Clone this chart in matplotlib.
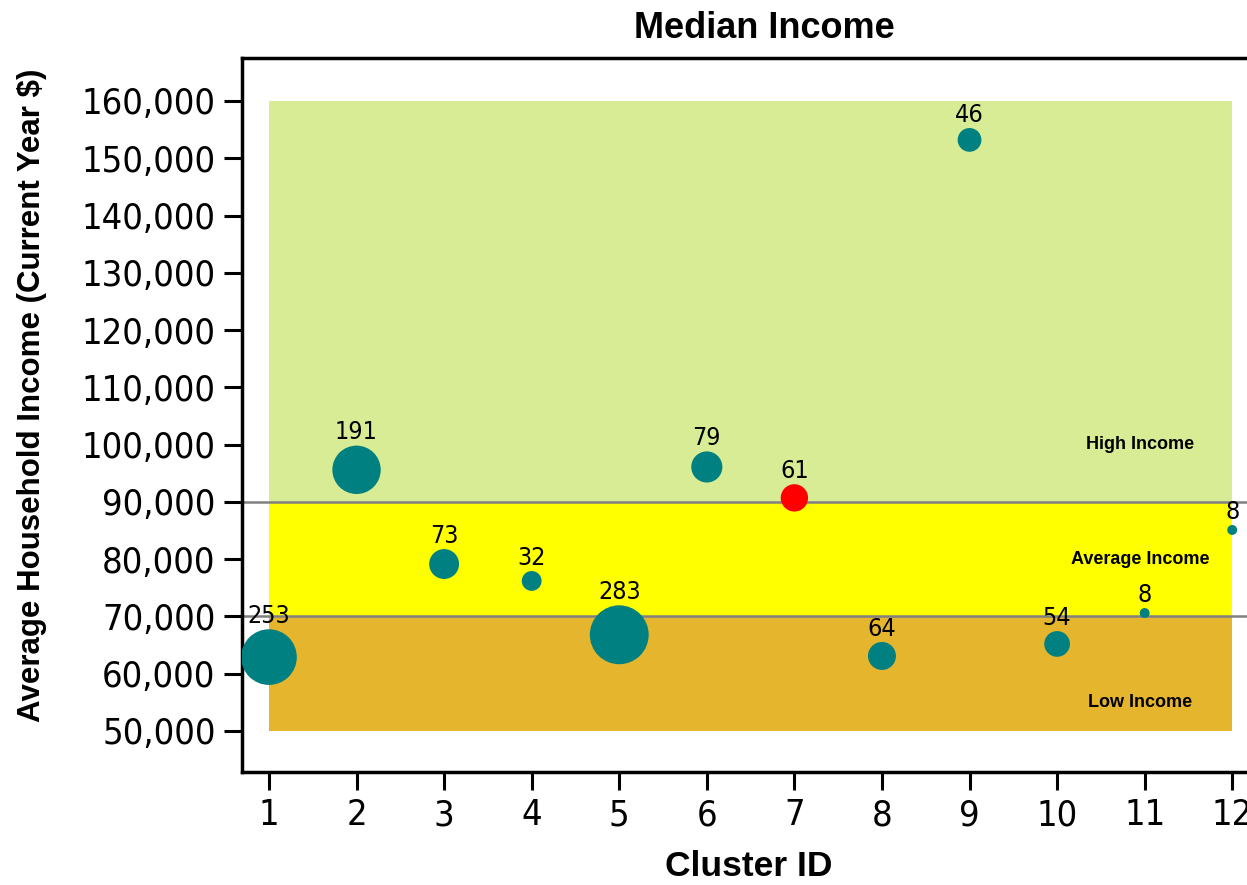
import matplotlib
matplotlib.use('Agg')
import matplotlib.pyplot as plt
from matplotlib import font_manager
from matplotlib.patches import Rectangle

# cluster summary
cluster_id = [1, 2, 3, 4, 5, 6, 7, 8, 9, 10, 11, 12]
avg_income = [62900, 95600, 79150, 76200, 66800, 96100, 90700, 63100, 153200, 65200, 70600, 85100]
n_members = [253, 191, 73, 32, 283, 79, 61, 64, 46, 54, 8, 8]
highlight = 7

# income bands
band_low = [50000, 70000, 90000]
band_high = [70000, 90000, 160000]
band_colors = ['#e6b52e', '#ffff00', '#d7ec94']
band_names = ['Low Income', 'Average Income', 'High Income']
band_text_y = [55000, 80000, 100000]
band_lines = [70000, 90000]

# prefer a narrow face for the numbers if one is installed
narrow_fp = None
for f in font_manager.fontManager.ttflist:
    if f.name == 'Liberation Sans Narrow' and f.weight in (400, 'normal', 'regular') and f.style == 'normal':
        narrow_fp = font_manager.FontProperties(fname=f.fname)
        break
if narrow_fp is None:
    for f in font_manager.fontManager.ttflist:
        if f.name == 'DejaVu Sans' and f.stretch == 'condensed' and f.weight in (400, 'normal') \
                and f.style == 'normal':
            narrow_fp = font_manager.FontProperties(fname=f.fname)
            break
if narrow_fp is None:
    narrow_fp = font_manager.FontProperties(family='Liberation Sans')

W, H = 1247, 885
fig = plt.figure(figsize=(W / 100, H / 100), dpi=100)
ax = fig.add_axes([242 / W, (H - 772) / H, (1262 - 242) / W, (772 - 58) / H])

ax.set_xlim(0.692, 12.34)
ax.set_ylim(42840, 167500)

for lo, hi, c in zip(band_low, band_high, band_colors):
    ax.add_patch(Rectangle((cluster_id[0], lo), cluster_id[-1] - cluster_id[0], hi - lo,
                           facecolor=c, edgecolor='none', zorder=1))
for yl in band_lines:
    ax.axhline(yl, color='#808080', lw=1.8, zorder=2)
for name, ty in zip(band_names, band_text_y):
    ax.text(10.95, ty, name, ha='center', va='center', fontsize=13,
            family='Liberation Sans', fontweight='bold', zorder=3)

colors = ['#ff0000' if c == highlight else '#008080' for c in cluster_id]
sizes = [6.35 * n for n in n_members]
ax.scatter(cluster_id, avg_income, s=sizes, c=colors, edgecolors='none', zorder=4)

lbl_fp = narrow_fp.copy()
lbl_fp.set_size(18)
for x, y, n in zip(cluster_id, avg_income, n_members):
    r_pt = 1.26 * n ** 0.5
    ax.annotate(str(n), (x, y), xytext=(0, r_pt + 1), textcoords='offset points',
                ha='center', va='bottom', fontproperties=lbl_fp, zorder=5)

ax.set_xticks(cluster_id)
ax.set_yticks(range(50000, 160001, 10000))
ax.set_yticklabels([f'{v:,}' for v in range(50000, 160001, 10000)])
tick_fp = narrow_fp.copy()
tick_fp.set_size(26)
for lab in ax.get_xticklabels() + ax.get_yticklabels():
    lab.set_fontproperties(tick_fp)
ax.tick_params(direction='out', length=13, width=2.2, pad=6)

for s in ['left', 'bottom', 'top']:
    ax.spines[s].set_linewidth(2.5)
ax.spines['right'].set_visible(False)

fig.text(764 / W, 1 - 28 / H, 'Median Income', ha='center', va='center',
         fontsize=26, fontweight='bold', family='Liberation Sans')
fig.text(749 / W, 1 - 866 / H, 'Cluster ID', ha='center', va='center',
         fontsize=25.5, fontweight='bold', family='Liberation Sans')
fig.text(32 / W, 1 - 395 / H, 'Average Household Income (Current Year $)', ha='center',
         va='center', rotation=90, fontsize=22.5, fontweight='bold', family='Liberation Sans')

fig.savefig('out.png', dpi=100)
